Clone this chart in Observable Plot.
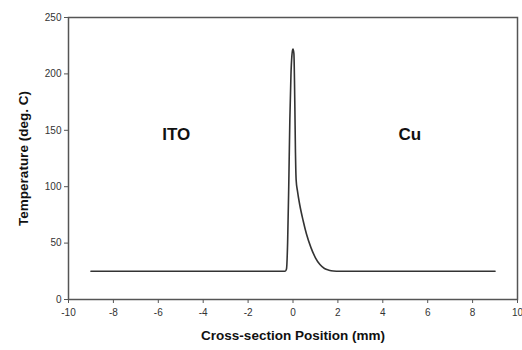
<!DOCTYPE html>
<html><head><meta charset="utf-8">
<script src="https://cdn.jsdelivr.net/npm/d3@7"></script>
<script src="https://cdn.jsdelivr.net/npm/@observablehq/plot@0.6"></script>
<style>
body{margin:0;background:#fff;}
svg{overflow:visible}
g[aria-label="x-axis label"] text, g[aria-label="y-axis label"] text{font-weight:bold;font-size:13.5px;fill:#111;}
g[aria-label="x-axis tick label"] text, g[aria-label="y-axis tick label"] text{fill:#333;}
</style>
</head><body>
<div id="chart"></div>
<script>
const positions = [-9, -0.35, -0.29, -0.24, -0.19, -0.14, -0.09, -0.05, -0.02, 0.0, 0.04, 0.08, 0.11, 0.14, 0.2, 0.3, 0.45, 0.6, 0.8, 1.0, 1.2, 1.4, 1.6, 1.8, 2.1, 2.5, 9];
const temperatures = [25, 25, 27, 50, 100, 160, 200, 216, 221, 222, 218, 175, 130, 106, 96, 84, 70, 58, 46, 37, 31, 27.5, 26, 25.3, 25.05, 25, 25];
const labelNames = ["ITO", "Cu"];
const labelX = [-5.2, 5.2];
const labelY = [146, 146];
const xTicks = [-10, -8, -6, -4, -2, 0, 2, 4, 6, 8, 10];
const yTicks = [0, 50, 100, 150, 200, 250];

const profile = positions.map((x, i) => ({x, y: temperatures[i]}));
const labels = labelNames.map((t, i) => ({t, x: labelX[i], y: labelY[i]}));

const chart = Plot.plot({
  width: 522,
  height: 350,
  marginLeft: 68,
  marginRight: 5,
  marginTop: 17,
  marginBottom: 51,
  style: {fontFamily: "Arial, 'Liberation Sans', sans-serif", fontSize: "10px", background: "#fff"},
  x: {domain: [-10, 10]},
  y: {domain: [0, 250]},
  marks: [
    Plot.frame({stroke: "#555", strokeWidth: 1.5}),
    Plot.axisX({ticks: xTicks, tickFormat: d => String(d), tickSize: 4, tickPadding: 5, stroke: "#555", label: "Cross-section Position (mm)", labelAnchor: "center", labelArrow: "none", labelOffset: 40}),
    Plot.axisY({ticks: yTicks, tickFormat: d => String(d), tickSize: 4, tickPadding: 3, stroke: "#555", label: "Temperature (deg. C)", labelAnchor: "center", labelArrow: "none", labelOffset: 50}),
    Plot.line(profile, {x: "x", y: "y", stroke: "#333", strokeWidth: 1.6, curve: "monotone-x"}),
    Plot.text(labels, {x: "x", y: "y", text: "t", fontSize: 17, fontWeight: "bold", fill: "#111"})
  ]
});
document.getElementById("chart").appendChild(chart);
</script>
</body></html>
